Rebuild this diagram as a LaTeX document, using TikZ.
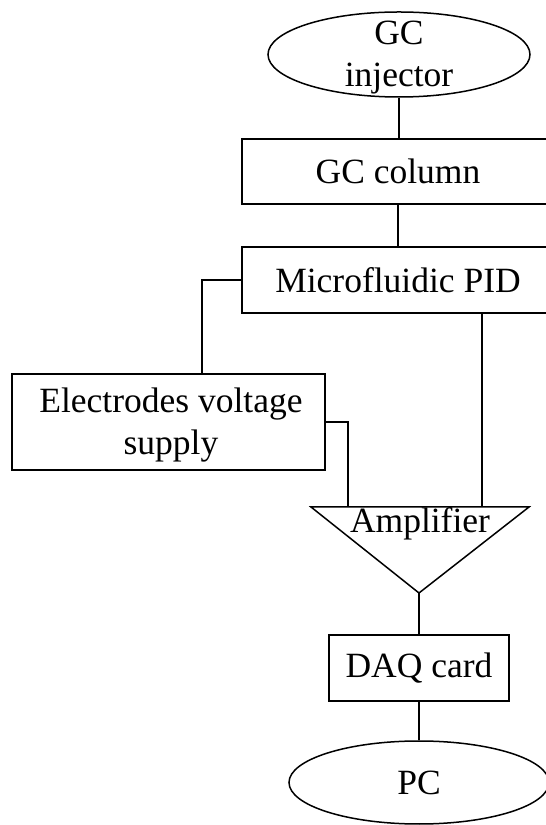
\documentclass[tikz,border=0pt]{standalone}
\usepackage{fontspec}
\setmainfont{Liberation Serif}
\usetikzlibrary{shapes.geometric}
\begin{document}
\begin{tikzpicture}[x=1pt,y=1pt, line width=1.5pt,
  lbl/.style={font=\fontsize{35.5}{42.5}\selectfont, align=center},
  box/.style={draw, rectangle, inner sep=0pt, lbl},
  oval/.style={draw, ellipse, inner sep=0pt, lbl}]
\useasboundingbox (0,0) rectangle (546,825);
% nodes
\node[oval, minimum width=262pt, minimum height=85pt] (inj) at (399,770.5) {};
\node[lbl, yshift=-3pt] (injtext) at (inj.center) {GC\\injector};
\node[box, minimum width=312pt, minimum height=65pt] (col) at (398,653.5) {GC column};
\node[box, minimum width=312pt, minimum height=66pt] (pid) at (398,545) {Microfluidic PID};
\node[draw, rectangle, minimum width=313pt, minimum height=96pt] (elec) at (168.5,403) {};
\node[lbl, yshift=-3pt] (electext) at (171,403) {Electrodes voltage\\supply};
\coordinate (ampL) at (311,318);
\coordinate (ampR) at (529,318);
\coordinate (ampB) at (419,232);
\draw[line join=miter] (ampL) -- (ampR) -- (ampB) -- cycle;
\node[lbl, anchor=base] (amp) at (420,292) {Amplifier};
\node[box, minimum width=180pt, minimum height=66pt] (daq) at (419,157) {DAQ card};
\node[oval, minimum width=260pt, minimum height=83pt] (pc) at (419,42.5) {PC};
% connectors
\coordinate (elecN) at (202,451);
\coordinate (ampIn1) at (348,318);
\coordinate (ampIn2) at (482,318);
\draw (inj.south) -- (inj.south |- col.north);
\draw (col.south) -- (pid.north);
\draw (pid.west) -| (elecN);
\draw (elec.east) -| (ampIn1);
\draw (pid.south -| ampIn2) -- (ampIn2);
\draw (ampB) -- (daq.north);
\draw (daq.south) -- (pc.north);
\end{tikzpicture}
\end{document}
